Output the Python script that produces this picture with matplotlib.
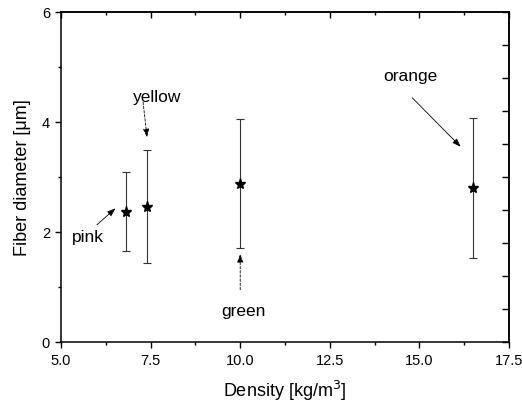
import numpy as np
from matplotlib import pyplot as plt
from matplotlib.ticker import MultipleLocator, NullFormatter

plt.rcParams['font.family'] = ['Liberation Sans', 'DejaVu Sans']

# Data
density = [6.8, 7.4, 10.0, 16.5]
diameter = [2.36, 2.45, 2.87, 2.80]
err_low = [0.71, 1.01, 1.16, 1.27]
err_high = [0.73, 1.04, 1.18, 1.27]
labels = ["pink", "yellow", "green", "orange"]

fig = plt.figure(figsize=(5.22, 4.02), dpi=100)
ax = fig.add_axes([0.1169, 0.1468, 0.8582, 0.8209])

ax.errorbar(density, diameter, yerr=[err_low, err_high], fmt="*", color="black",
            markersize=8, ecolor="#333333", elinewidth=0.8, capsize=3, capthick=0.8)

# Text labels with arrows: (text x, text y, arrow start x, y, arrow tip x, y, dashed)
ann = {
    "pink": (5.76, 1.91, 6.0, 2.13, 6.52, 2.43, False),
    "yellow": (7.68, 4.47, 7.29, 4.36, 7.4, 3.72, True),
    "green": (10.08, 0.58, 10.0, 0.95, 10.0, 1.6, True),
    "orange": (14.76, 4.85, 14.8, 4.44, 16.15, 3.55, False),
}
for name in labels:
    tx, ty, sx, sy, ex, ey, dashed = ann[name]
    ax.text(tx, ty, name, fontsize=12.5, ha="center", va="center")
    ax.annotate("", xy=(ex, ey), xytext=(sx, sy),
                arrowprops=dict(arrowstyle="-|>,head_length=0.5,head_width=0.18",
                                color="black", lw=0.6, shrinkA=0, shrinkB=0,
                                linestyle=(0, (3, 2)) if dashed else "-"))

ax.set_xlim(5.0, 17.5)
ax.set_ylim(0, 6)
ax.xaxis.set_major_locator(MultipleLocator(2.5))
ax.xaxis.set_minor_locator(MultipleLocator(1.25))
ax.yaxis.set_major_locator(MultipleLocator(2))
ax.yaxis.set_minor_locator(MultipleLocator(1))
ax.xaxis.set_major_formatter(plt.FormatStrFormatter("%.1f"))

ax.tick_params(which="major", direction="out", length=4.5, width=1, labelsize=10.5)
ax.tick_params(which="minor", direction="out", length=2.2, width=1)

# Top and right axes: ticks pointing in, no labels
top = ax.secondary_xaxis("top")
top.xaxis.set_major_locator(MultipleLocator(2.5))
top.xaxis.set_minor_locator(MultipleLocator(1.25))
top.xaxis.set_major_formatter(NullFormatter())
top.tick_params(which="major", direction="in", length=4.5, width=1)
top.tick_params(which="minor", direction="in", length=2.2, width=1)

right = ax.secondary_yaxis("right")
right.yaxis.set_major_locator(MultipleLocator(0.6))
right.yaxis.set_major_formatter(NullFormatter())
right.tick_params(which="major", direction="in", length=5, width=1)

for a in (ax, top, right):
    for sp in a.spines.values():
        sp.set_linewidth(1.1)

ax.set_xlabel("Density [kg/m$^3$]", fontsize=13, labelpad=8)
ax.set_ylabel("Fiber diameter [\u03bcm]", fontsize=13, labelpad=8)

fig.savefig("out.png", dpi=100)
